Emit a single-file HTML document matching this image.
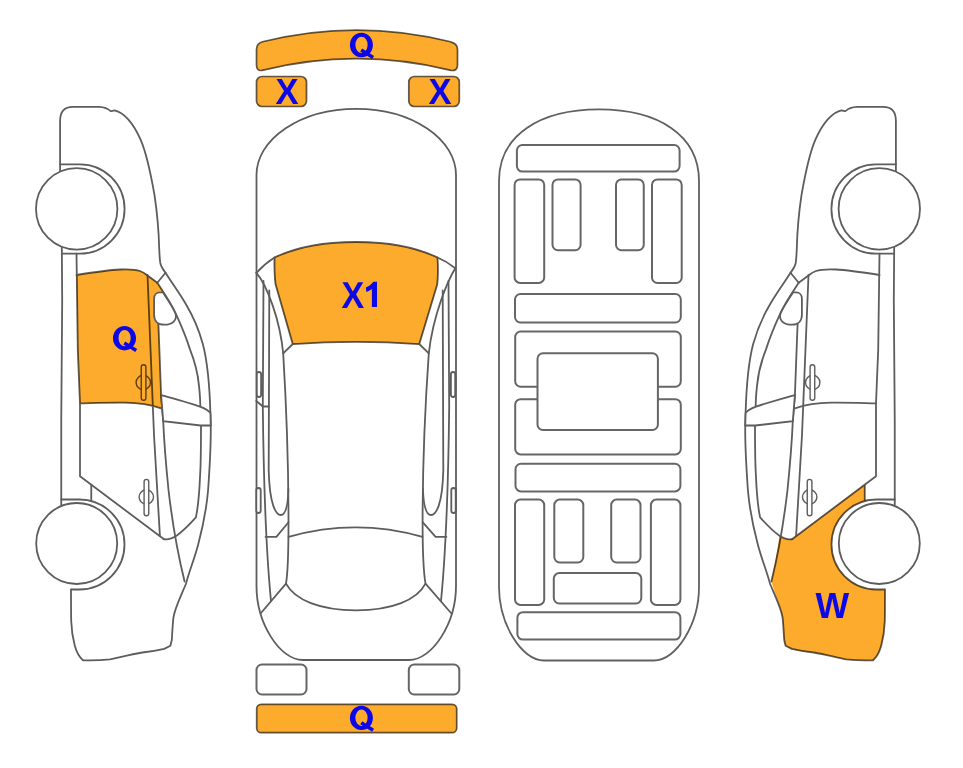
<!DOCTYPE html>
<html><head><meta charset="utf-8">
<style>
html,body{margin:0;padding:0;background:#fff;width:963px;height:768px;overflow:hidden}
svg{position:absolute;left:0;top:0}
.l{fill:none;stroke:#5d5d5d;stroke-width:1.8;stroke-linejoin:round;stroke-linecap:round}
.w{fill:#fff;stroke:#5d5d5d;stroke-width:1.8}
.h{fill:#fff;stroke:#5d5d5d;stroke-width:1.4}
.hc{fill:none;stroke:#5d5d5d;stroke-width:1.4}
.g{fill:#fff;stroke:#666;stroke-width:2}
.lo{fill:none;stroke:#626262;stroke-width:1.7;stroke-linejoin:round}
.m{fill:#FDAB2D;stroke:none;mix-blend-mode:multiply}
.t{font-family:"Liberation Sans",sans-serif;font-weight:bold;text-rendering:geometricPrecision;fill:#0C08E6}
</style></head>
<body>
<svg width="963" height="768" viewBox="0 0 963 768">

<!-- front bumper + lights (outlines) -->
<path class="lo" d="M256.5,49.5 Q256.5,43.3 262.5,41.8 Q356.5,18.4 450.5,41.8 Q457.5,43.3 457.5,49.5 L457.5,65 Q457.5,71.3 451,70.4 Q356.5,47 262,70.4 Q256.5,71.3 256.5,65 Z"/>
<rect class="lo" x="256.5" y="76.5" width="50" height="30" rx="5.5"/>
<rect class="lo" x="408.8" y="76.5" width="50.5" height="30" rx="5.5"/>

<!-- TOP VIEW CAR -->
<path class="l" d="M256.5,586 L256.5,175 A99.75,66.2 0 0 1 456,175 L456,586 C456,623 432.5,660 409,660 L303,660 C279.5,660 256.5,623 256.5,586 Z"/>
<path class="l" d="M256.4,272.8 Q265,263.5 274.5,257.5 A110,47.2 0 0 1 437.5,257.5 Q447,261.5 455.3,268.2"/>
<path class="l" d="M274.5,257.5 C274.3,268 274.5,276 275.5,284 L292.8,344.2 Q356,339.5 419.2,344.2 L437.2,284.5 C438.2,276 438.2,268 437.5,257.5"/>
<path class="l" d="M256.4,272.8 C267,285 280,320 283.2,353.4 C286,400 288.5,470 288.5,522 C288.5,555 287.5,575 286,583.6 L261,613"/>
<path class="l" d="M455.3,268.2 C448,280 433,315 428.8,353.4 C425.5,400 422.6,470 422.6,522 C422.6,555 424,575 425.5,583.6 L451,613"/>
<path class="l" d="M283.2,353.4 L292.8,344 M428.8,353.4 L419.2,344"/>
<path class="l" d="M263.5,281 L262.8,406 C263.5,470 265,540 271,601"/>
<path class="l" d="M448.5,281 L449.2,406 C448.5,470 447,540 441,601"/>
<path class="l" d="M269.3,290.4 L268.7,470 C269.5,505 276,515 280.8,515 C285.5,515 288,505 288.4,489"/>
<path class="l" d="M442.7,290.4 L443.3,470 C442.5,505 436,515 431,515 C426,515 423.5,505 422.9,489"/>
<path class="l" d="M256.3,401 L262.9,406.5 L268.75,406.5"/>
<path class="l" d="M288.5,522.2 L276.4,536.9 L265.6,536.9 M422.6,522.2 L435.6,536.9 L446.4,536.9"/>
<path class="l" d="M288.6,536.9 Q355.5,518 422.5,536.9"/>
<path class="l" d="M286,583.6 C295,600 320,610.3 356,610.3 C392,610.3 417,600 425.5,583.6"/>
<rect class="w" x="256.8" y="372" width="4.3" height="25" rx="2.2"/>
<rect class="w" x="256.3" y="488" width="4.4" height="25" rx="2.2"/>
<rect class="w" x="450.9" y="372" width="4.3" height="25" rx="2.2"/>
<rect class="w" x="451.3" y="488" width="4.4" height="25" rx="2.2"/>

<!-- REAR PARTS -->
<rect class="g" x="256.5" y="664.5" width="50" height="30" rx="5.5"/>
<rect class="g" x="408.8" y="664.5" width="50.5" height="30" rx="5.5"/>
<rect class="lo" x="256.7" y="704.3" width="200" height="28.4" rx="4.5"/>

<!-- UNDERSIDE -->
<path class="l" d="M499,587 L499,181 C499,135 540,109.4 599,109.4 C658,109.4 699,135 699,181 L699,587 C699,623.75 676.5,660.5 654,660.5 L544,660.5 C521.5,660.5 499,623.75 499,587 Z" style="stroke:#606060"/>
<rect class="g" x="516.9" y="145" width="162.7" height="26.6" rx="5.5"/>
<rect class="g" x="514.6" y="179.4" width="29.6" height="103.5" rx="5.5"/>
<rect class="g" x="552.5" y="179.4" width="28.1" height="70.8" rx="5.5"/>
<rect class="g" x="616" y="179.4" width="27.75" height="70.8" rx="5.5"/>
<rect class="g" x="652" y="179.4" width="29.7" height="103.6" rx="5.5"/>
<rect class="g" x="515" y="294" width="165.8" height="28.5" rx="5.5"/>
<rect class="g" x="515.2" y="331.5" width="165.6" height="55.2" rx="5.5"/>
<rect class="g" x="515.2" y="399.2" width="165.6" height="55.2" rx="5.5"/>
<rect class="g" x="537.5" y="353.3" width="120.4" height="76.7" rx="5.5"/>
<rect class="g" x="515.5" y="463.75" width="164.9" height="27.65" rx="5.5"/>
<rect class="g" x="515" y="499.6" width="29.2" height="105.3" rx="5.5"/>
<rect class="g" x="554.3" y="499.6" width="29" height="62.9" rx="5.5"/>
<rect class="g" x="611.2" y="499.6" width="29.3" height="62.9" rx="5.5"/>
<rect class="g" x="650.9" y="499.6" width="29.5" height="105.3" rx="5.5"/>
<rect class="g" x="553.8" y="573.1" width="87.5" height="30.4" rx="5.5"/>
<rect class="g" x="517.4" y="612.2" width="163" height="27.4" rx="5.5"/>

<!-- SIDE VIEWS -->
<g>
  <path class="l" d="M60.1,175 L60.1,120.8 C60.1,111 65,106.8 72.9,106.8 L99,106.8 C104,107 108,108.5 110.4,111 C111.5,111.3 113,110.3 114.6,110.4 C125,113 134,125 140.6,139.6 C146,152 150.5,172 154.6,195.6 C157,212 158.8,232 159.2,248.4 C159.5,255 159.8,260 160.3,263 C161,266.5 163,269.5 165.5,272.7 L157.3,282.8"/>
  <path class="l" d="M165.5,272.7 C172,283 180,294 185.5,303.5 C193,316 199,330 202.9,344.2 C207,360 209.6,385 210.4,413 L210.75,425.5 C211,440 209.5,470 208.1,490 C206,515 202,530 198.2,544.4 C194,560 189,572 185.9,584 C180,598 175,608 173.5,617.1 C172.5,625 172.2,635 171.8,640 L170.4,645.7 L164.2,648.9 C155,651 148,652 142.3,652.5 C130,654.5 120,657.5 110,659.3 C100,660.5 90,660.5 83,660.3 C79,657 76.5,652 74.75,645.6 C72.5,637 71.5,630 71.2,621 C71,610 71,600 71,589.4"/>
  <path class="l" d="M157.3,282.8 C163,291.5 171,303 176,314.2 C181,325 186,337 190,349.4 C195,362 198,375 199,385.8 C200,395 200.3,402 200.3,406.6"/>
  <path class="l" d="M201,425.5 C201,445 200.8,465 200.1,475 C199.5,490 198.5,505 195.9,517.4 C190,524 183,531 177.2,535.2 C173,538 169,539.4 166,539.4 C164.5,539.4 163.8,539.2 163.3,538.75"/>
  <path class="l" d="M158.3,322 C159.5,350 160.5,380 161.1,395 L163.2,421.1 C164,440 166,465 168.5,490 C172,520 178,555 184.6,581.5"/>
  <path class="l" d="M147.5,275 L154,435 L159.9,535.8"/>
  <path class="l" d="M76.5,275 C92,272.5 108,270 120,269.5 C128,269.2 136,269.5 140,271 C143,272.2 145,273.5 146.2,274.5 L157.3,282.8"/>
  <path class="l" d="M80,403.3 C95,403 110,402.5 125,402.7 C140,403 150,404.6 161.1,408.3"/>
  <path class="l" d="M61.8,246 L62.2,300 L61.25,420 L61.25,505"/>
  <path class="l" d="M76.5,253.6 L77.8,350 L80,403.3 L80,476.25 L163.3,538.75"/>
  <path class="l" d="M91.25,484.6 L91.25,501"/>
  <path class="l" d="M60.1,164.3 L79.95,164.3 A44.65,44.65 0 0 1 79.95,253.6 L61.8,253.6"/>
  <path class="l" d="M61.25,499.5 L79.5,499.5 A45,45 0 0 1 79.5,589.5 L71.4,589.5"/>
  <path class="w" d="M161.1,395.1 C175,399 190,403 200,406.6 C205,408.5 209,411 210.4,413 L210.75,425.5 L200.6,425.5 L163.2,421.1 Z"/>
  <circle class="w" cx="76.7" cy="208.9" r="40.7"/>
  <circle class="w" cx="76.7" cy="543.5" r="40.5"/>
  <circle class="hc" cx="143.3" cy="382.5" r="7.2"/>
  <rect class="h" x="141.25" y="364.8" width="4.65" height="35.5" rx="2.3"/>
  <circle class="hc" cx="146.3" cy="497" r="7.2"/>
  <rect class="h" x="144.1" y="479.4" width="4.65" height="36.4" rx="2.3"/>
</g>
<g transform="matrix(-1 0 0 1 956 0)">
  <path class="l" d="M60.1,175 L60.1,120.8 C60.1,111 65,106.8 72.9,106.8 L99,106.8 C104,107 108,108.5 110.4,111 C111.5,111.3 113,110.3 114.6,110.4 C125,113 134,125 140.6,139.6 C146,152 150.5,172 154.6,195.6 C157,212 158.8,232 159.2,248.4 C159.5,255 159.8,260 160.3,263 C161,266.5 163,269.5 165.5,272.7 L157.3,282.8"/>
  <path class="l" d="M165.5,272.7 C172,283 180,294 185.5,303.5 C193,316 199,330 202.9,344.2 C207,360 209.6,385 210.4,413 L210.75,425.5 C211,440 209.5,470 208.1,490 C206,515 202,530 198.2,544.4 C194,560 189,572 185.9,584 C180,598 175,608 173.5,617.1 C172.5,625 172.2,635 171.8,640 L170.4,645.7 L164.2,648.9 C155,651 148,652 142.3,652.5 C130,654.5 120,657.5 110,659.3 C100,660.5 90,660.5 83,660.3 C79,657 76.5,652 74.75,645.6 C72.5,637 71.5,630 71.2,621 C71,610 71,600 71,589.4"/>
  <path class="l" d="M157.3,282.8 C163,291.5 171,303 176,314.2 C181,325 186,337 190,349.4 C195,362 198,375 199,385.8 C200,395 200.3,402 200.3,406.6"/>
  <path class="l" d="M201,425.5 C201,445 200.8,465 200.1,475 C199.5,490 198.5,505 195.9,517.4 C190,524 183,531 177.2,535.2 C173,538 169,539.4 166,539.4 C164.5,539.4 163.8,539.2 163.3,538.75"/>
  <path class="l" d="M158.3,322 C159.5,350 160.5,380 161.1,395 L163.2,421.1 C164,440 166,465 168.5,490 C172,520 178,555 184.6,581.5"/>
  <path class="l" d="M147.5,275 L154,435 L159.9,535.8"/>
  <path class="l" d="M76.5,275 C92,272.5 108,270 120,269.5 C128,269.2 136,269.5 140,271 C143,272.2 145,273.5 146.2,274.5 L157.3,282.8"/>
  <path class="l" d="M80,403.3 C95,403 110,402.5 125,402.7 C140,403 150,404.6 161.1,408.3"/>
  <path class="l" d="M61.8,246 L62.2,300 L61.25,420 L61.25,505"/>
  <path class="l" d="M76.5,253.6 L77.8,350 L80,403.3 L80,476.25 L163.3,538.75"/>
  <path class="l" d="M91.25,484.6 L91.25,501"/>
  <path class="l" d="M60.1,164.3 L79.95,164.3 A44.65,44.65 0 0 1 79.95,253.6 L61.8,253.6"/>
  <path class="l" d="M61.25,499.5 L79.5,499.5 A45,45 0 0 1 79.5,589.5 L71.4,589.5"/>
  <path class="w" d="M161.1,395.1 C175,399 190,403 200,406.6 C205,408.5 209,411 210.4,413 L210.75,425.5 L200.6,425.5 L163.2,421.1 Z"/>
  <circle class="w" cx="76.7" cy="208.9" r="40.7"/>
  <circle class="w" cx="76.7" cy="543.5" r="40.5"/>
  <circle class="hc" cx="143.3" cy="382.5" r="7.2"/>
  <rect class="h" x="141.25" y="364.8" width="4.65" height="35.5" rx="2.3"/>
  <circle class="hc" cx="146.3" cy="497" r="7.2"/>
  <rect class="h" x="144.1" y="479.4" width="4.65" height="36.4" rx="2.3"/>
</g>

<!-- ORANGE (multiply) -->
<path class="m" d="M256.5,49.5 Q256.5,43.3 262.5,41.8 Q356.5,18.4 450.5,41.8 Q457.5,43.3 457.5,49.5 L457.5,65 Q457.5,71.3 451,70.4 Q356.5,47 262,70.4 Q256.5,71.3 256.5,65 Z"/>
<rect class="m" x="256.5" y="76.5" width="50" height="30" rx="5.5"/>
<rect class="m" x="408.8" y="76.5" width="50.5" height="30" rx="5.5"/>
<path class="m" d="M274.5,257.5 A110,47.2 0 0 1 437.5,257.5 C438.2,268 438.2,276 437.2,284.5 L419.2,344.2 Q356,339.5 292.8,344.2 L275.5,284 C274.5,276 274.3,268 274.5,257.5 Z"/>
<rect class="m" x="256.7" y="704.3" width="200" height="28.4" rx="4.5"/>
<path class="m" d="M76.5,275 C92,272.5 108,270 120,269.5 C128,269.2 136,269.5 140,271 C143,272.2 145,273.5 146.2,274.5 L157.3,282.8 C163,291.5 171,303 176,314.2 L166,319 L158.2,319 C159.5,350 160.5,380 161.1,395 L161.1,408.3 C150,404.6 140,403 125,402.7 C110,402.5 95,403 80,403.3 L77.8,350 Z"/>
<path class="m" transform="matrix(-1 0 0 1 956 0)" d="M91.25,484.6 L163.3,538.75 C164.5,539.4 166,539.4 167,539.4 C171,539.2 174,537.5 176.6,536 C178.5,550 181.5,566 184.6,581.5 C180,598 175,608 173.5,617.1 C172.5,625 172.2,635 171.8,640 L170.4,645.7 L164.2,648.9 C155,651 148,652 142.3,652.5 C130,654.5 120,657.5 110,659.3 C100,660.5 90,660.5 83,660.3 C79,657 76.5,652 74.75,645.6 C72.5,637 71.5,630 71.2,621 C71,610 71,600 71,589.5 L79.5,589.5 A45,45 0 0 0 79.5,499.5 L91.25,499.5 Z"/>

<!-- mirror D on top -->
<path class="w" d="M160,292.3 L162.8,292.3 C167,298.5 172,306 175.5,313.5 C177.5,320 172.5,324.7 164.1,324.7 C158,324.7 154.1,321 154.1,315 L154.1,298.5 C154.1,294.8 156.5,292.3 160,292.3 Z"/>
<g transform="matrix(-1 0 0 1 956 0)"><path class="w" d="M160,292.3 L162.8,292.3 C167,298.5 172,306 175.5,313.5 C177.5,320 172.5,324.7 164.1,324.7 C158,324.7 154.1,321 154.1,315 L154.1,298.5 C154.1,294.8 156.5,292.3 160,292.3 Z"/></g>

<!-- LABELS -->
<g fill="#0C08E6">
<text class="t" x="275.5" y="104" font-size="36.2" transform="translate(275.5,0) scale(0.955,1) translate(-275.5,0)">X</text>
<text class="t" x="428.6" y="104" font-size="36.2" transform="translate(428.6,0) scale(0.955,1) translate(-428.6,0)">X</text>
<text class="t" x="341.6" y="308" font-size="37.4" transform="translate(341.6,0) scale(0.91,1) translate(-341.6,0)">X</text>
<path d="M373.3,281.8 L377,281.8 L377,307 L371.9,307 L371.9,288.9 C370.2,290 368.3,291.2 366.3,292 L365.9,287.6 C368.6,286.5 371.6,284.4 373.3,281.8 Z"/>
<g transform="translate(113,326)">
  <path fill-rule="evenodd" d="M0,12.2 A11.5,12.2 0 1 0 23,12.2 A11.5,12.2 0 1 0 0,12.2 Z M5.5,12.1 A6.1,8.2 0 1 0 17.7,12.1 A6.1,8.2 0 1 0 5.5,12.1 Z"/>
  <path d="M12.26,15.58 L24.16,23.08 L22.24,26.12 L10.34,18.62 Z"/>
</g>
<g transform="translate(349.9,32.8)">
  <path fill-rule="evenodd" d="M0,12.2 A11.5,12.2 0 1 0 23,12.2 A11.5,12.2 0 1 0 0,12.2 Z M5.5,12.1 A6.1,8.2 0 1 0 17.7,12.1 A6.1,8.2 0 1 0 5.5,12.1 Z"/>
  <path d="M12.26,15.58 L24.16,23.08 L22.24,26.12 L10.34,18.62 Z"/>
</g>
<g transform="translate(349.9,705.7)">
  <path fill-rule="evenodd" d="M0,12.2 A11.5,12.2 0 1 0 23,12.2 A11.5,12.2 0 1 0 0,12.2 Z M5.5,12.1 A6.1,8.2 0 1 0 17.7,12.1 A6.1,8.2 0 1 0 5.5,12.1 Z"/>
  <path d="M12.26,15.58 L24.16,23.08 L22.24,26.12 L10.34,18.62 Z"/>
</g>
<text class="t" x="815.6" y="617.9" font-size="36.2" transform="translate(815.6,0) scale(0.985,1) translate(-815.6,0)">W</text>
</g>
</svg>
</body></html>
